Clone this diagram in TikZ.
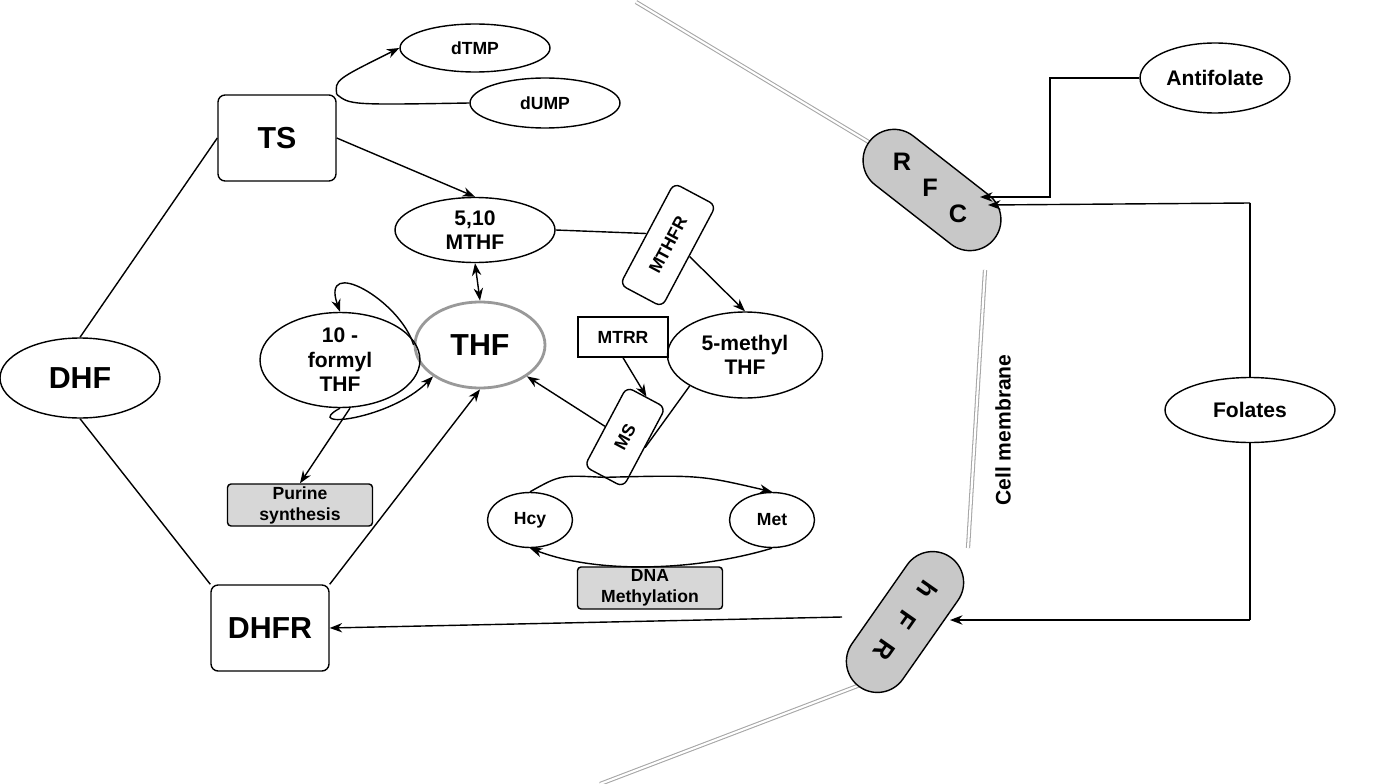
\documentclass[tikz,border=0pt]{standalone}
\usepackage{fontspec}
\setmainfont{Liberation Sans}
\usetikzlibrary{shapes.geometric, shapes.misc, arrows.meta, positioning, calc}
\definecolor{capgray}{RGB}{200,200,200}
\definecolor{boxgray}{RGB}{215,215,215}

\begin{document}
\begin{tikzpicture}[x=0.02cm, y=-0.02cm, font=\bfseries,
  ell/.style={ellipse, draw, thick, inner sep=0pt, align=center},
  rbox/.style={rectangle, rounded corners=4pt, draw, thick, align=center},
  gbox/.style={rectangle, rounded corners=2pt, draw, thick, fill=boxgray, align=center, font=\bfseries, inner sep=1pt},
  caps/.style={rounded rectangle, draw, thick, fill=capgray, minimum width=3.4cm, minimum height=1.24cm},
  memb/.style={gray!70, double=white, double distance=1.2pt, line width=0.6pt},
  arr/.style={-{Stealth[length=2.5mm]}, thick},
  lin/.style={thick}]
\useasboundingbox (0,0) rectangle (1393,784);

% cell membrane
\draw[memb] (636,2) -- (882,150);
\draw[memb] (985,270) -- (968,548);
\draw[memb] (860,685) -- (600,784);
\node[rotate=90, font=\bfseries\large] (cm) at (1003,430) {Cell membrane};

% nodes inside the cell
\node[ell, minimum width=3cm, minimum height=0.96cm] (dtmp) at (475,48) {dTMP};
\node[ell, minimum width=3cm, minimum height=1cm] (dump) at (545,103) {dUMP};
\node[rbox, minimum width=2.36cm, minimum height=1.72cm, font=\bfseries\LARGE] (ts) at (277,138) {TS};
\node[ell, minimum width=3.2cm, minimum height=1.3cm, font=\bfseries\large] (mthf) at (475,230) {5,10\\MTHF};
\node[rbox, rotate=62, minimum width=2.3cm, minimum height=0.95cm] (mthfr) at (668,245) {MTHFR};
\node[ell, minimum width=2.6cm, minimum height=1.72cm, draw=gray!80, line width=1.6pt, font=\bfseries\LARGE] (thf) at (480,345) {THF};
\node[ell, minimum width=3.2cm, minimum height=1.9cm, font=\bfseries\large] (form) at (340,360) {10 -\\formyl\\THF};
\node[rectangle, draw, thick, minimum width=1.8cm, minimum height=0.8cm] (mtrr) at (623,337) {MTRR};
\node[ell, minimum width=3.1cm, minimum height=1.72cm, font=\bfseries\large] (meth) at (745,355) {5-methyl\\THF};
\node[rbox, rotate=62, minimum width=1.8cm, minimum height=0.88cm] (ms) at (625,437) {MS};
\node[gbox, minimum width=2.9cm, minimum height=0.84cm] (pur) at (300,505) {Purine\\synthesis};
\node[ell, minimum width=1.7cm, minimum height=1.1cm] (hcy) at (530,520) {Hcy};
\node[ell, minimum width=1.7cm, minimum height=1.1cm] (met) at (772,520) {Met};
\node[gbox, minimum width=2.9cm, minimum height=0.84cm] (dna) at (650,588) {DNA\\Methylation};
\node[ell, minimum width=3.2cm, minimum height=1.6cm, font=\bfseries\LARGE] (dhf) at (80,378) {DHF};
\node[rbox, minimum width=2.36cm, minimum height=1.72cm, font=\bfseries\LARGE] (dhfr) at (270,628) {DHFR};

% carriers
\node[caps, rotate=-38] (rfc) at (932,190) {};
\node[font=\bfseries\Large] (r1) at (902,162) {R};
\node[font=\bfseries\Large] (f1) at (930,188) {F};
\node[font=\bfseries\Large] (c1) at (958,214) {C};
\node[caps, rotate=55] (fr) at (905,622) {};
\node[font=\bfseries\Large, rotate=-125] (h2) at (928,590) {h};
\node[font=\bfseries\Large, rotate=-125] (f2) at (906,620) {F};
\node[font=\bfseries\Large, rotate=-125] (r2) at (884,650) {R};

% outside
\node[ell, minimum width=3cm, minimum height=1.4cm, font=\bfseries\large] (anti) at (1215,78) {Antifolate};
\node[ell, minimum width=3.4cm, minimum height=1.3cm, font=\bfseries\large] (fol) at (1250,410) {Folates};
\coordinate (ftop) at (1250,203);
\coordinate (fbot) at (1250,620);
\coordinate (abend) at (1050,78);
\coordinate (rfcin) at (980,197);
\coordinate (rfcin2) at (988,205);
\coordinate (frin) at (950,620);
\coordinate (frout) at (842,617);

% connectors
\draw[arr] (ts.north east) .. controls (335,80) .. (dtmp.west);
\draw[lin] (ts.north east) .. controls (350,105) .. (dump.west);
\draw[arr] (ts.east) -- (mthf.north);
\draw[{Stealth[length=2.5mm]}-{Stealth[length=2.5mm]}, thick] (mthf.south) -- (thf.north);
\draw[lin] (mthf.east) -- (mthfr.north);
\draw[arr] (mthfr.south) -- (meth.north);
\draw[arr] (thf.west) .. controls (400,300) and (320,255) .. (form.north);
\draw[arr] (form.south) .. controls (300,430) and (390,420) .. (thf.south west);
\draw[arr] ($(form.south)+(10,0)$) -- (pur.north);
\draw[arr] (mtrr.south) -- (ms.east);
\draw[lin] (meth.south west) -- (ms.south);
\draw[arr] (ms.north) -- (thf.south east);
\draw[arr] (ms.west) .. controls (700,475) .. (met.north);
\draw[lin] (ms.west) .. controls (560,475) .. (hcy.north);
\draw[arr] (met.south) .. controls (700,570) and (600,575) .. (hcy.south);
\draw[lin] (dhf.north) -- (ts.west);
\draw[lin] (dhf.south) -- (dhfr.north west);
\draw[arr] (dhfr.north east) -- (thf.south);
\draw[arr] (frout) -- (dhfr.east);
\draw[arr] (anti.west) -- (abend) |- (rfcin);
\draw[lin] (fol.north) -- (ftop);
\draw[lin] (fol.south) -- (fbot);
\draw[arr] (ftop) -- (rfcin2);
\draw[arr] (fbot) -- (frin);
\end{tikzpicture}
\end{document}
